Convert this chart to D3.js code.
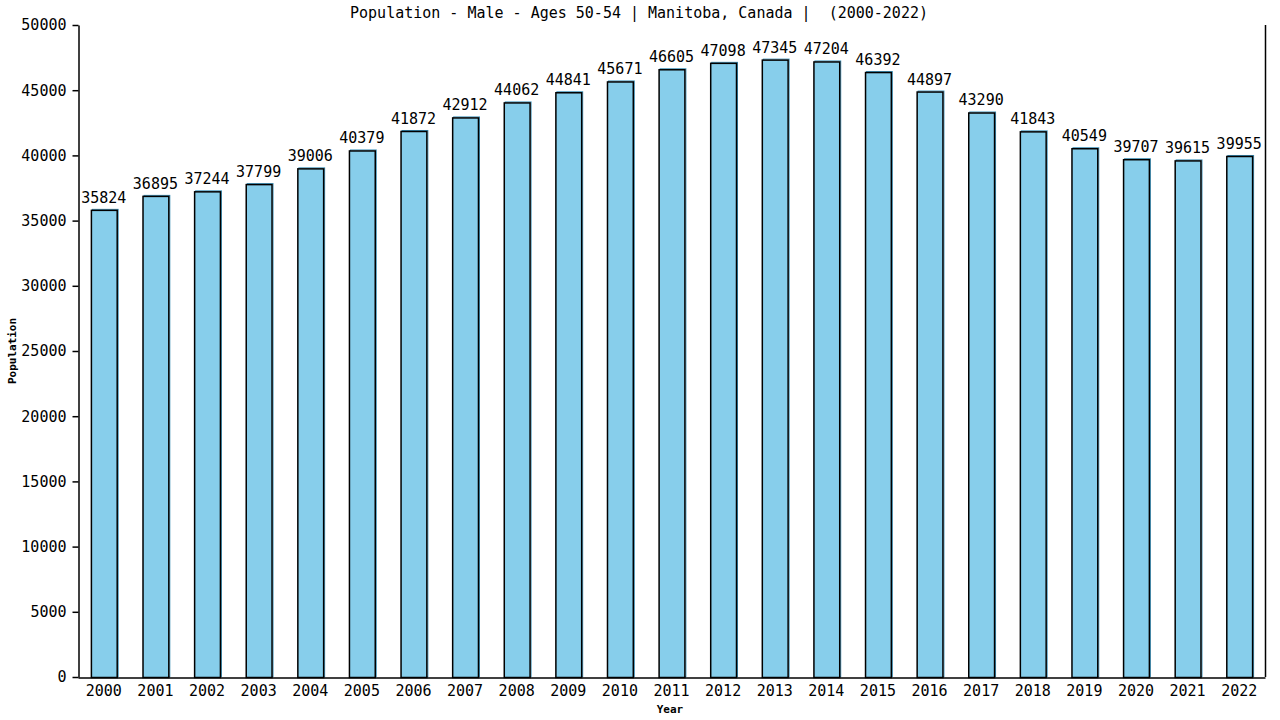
<!DOCTYPE html>
<html>
<head>
<meta charset="utf-8">
<script src="https://cdn.jsdelivr.net/npm/d3@7"></script>
<style>
  body { margin: 0; background: #fff; }
  text { font-family: "DejaVu Sans Mono", "Liberation Mono", monospace; }
</style>
</head>
<body>
<div id="chart"></div>
<script>
var years = ["2000", "2001", "2002", "2003", "2004", "2005", "2006", "2007", "2008", "2009", "2010", "2011",
  "2012", "2013", "2014", "2015", "2016", "2017", "2018", "2019", "2020", "2021", "2022"];
var population = [35824, 36895, 37244, 37799, 39006, 40379, 41872, 42912, 44062, 44841, 45671, 46605,
  47098, 47345, 47204, 46392, 44897, 43290, 41843, 40549, 39707, 39615, 39955];
var yTicks = [0, 5000, 10000, 15000, 20000, 25000, 30000, 35000, 40000, 45000, 50000];

var width = 1280,
    height = 720,
    plotLeft = 78, plotRight = 1265, plotTop = 25, plotBottom = 677;

var svg = d3.select("#chart").append("svg")
    .attr("width", width)
    .attr("height", height);

var x = d3.scaleBand()
    .domain(years)
    .range([plotLeft, plotRight])
    .paddingInner(0.5)
    .paddingOuter(0.25);

var y = d3.scaleLinear()
    .domain([0, 50000])
    .range([plotBottom, plotTop]);

// bars: a thin blue shadow behind, then the filled bar
var bars = svg.append("g");
bars.selectAll("rect.shadow")
    .data(population)
    .enter().append("rect")
    .attr("class", "shadow")
    .attr("x", function (d, i) { return x(years[i]) + 1.5; })
    .attr("y", function (d) { return y(d) - 0.5; })
    .attr("width", x.bandwidth())
    .attr("height", function (d) { return plotBottom - y(d); })
    .attr("fill", "none")
    .attr("stroke", "#3a8fb7")
    .attr("stroke-width", 1);

bars.selectAll("rect.bar")
    .data(population)
    .enter().append("rect")
    .attr("class", "bar")
    .attr("x", function (d, i) { return x(years[i]) + 0.5; })
    .attr("y", function (d) { return y(d) + 0.5; })
    .attr("width", x.bandwidth())
    .attr("height", function (d) { return plotBottom - y(d); })
    .attr("fill", "#87ceeb")
    .attr("stroke", "#000")
    .attr("stroke-width", 1.5);

// value labels
svg.append("g").selectAll("text")
    .data(population)
    .enter().append("text")
    .attr("x", function (d, i) { return x(years[i]) + x.bandwidth() / 2; })
    .attr("y", function (d) { return y(d) - 7; })
    .attr("text-anchor", "middle")
    .attr("font-size", "15px")
    .attr("fill", "#000")
    .text(function (d) { return d; });

// axes
var yAxis = d3.axisLeft(y).tickValues(yTicks).tickFormat(d3.format("d"))
    .tickSize(6).tickSizeOuter(0).tickPadding(6);
var gy = svg.append("g")
    .attr("transform", "translate(" + (plotLeft + 0.5) + ",0)")
    .call(yAxis);
gy.selectAll("text").attr("font-size", "15px").attr("fill", "#000")
    .attr("font-family", "DejaVu Sans Mono, monospace");
gy.selectAll("line, path").attr("stroke", "#000").attr("stroke-width", 1.5);

var xAxis = d3.axisBottom(x).tickSize(0).tickPadding(8);
var gx = svg.append("g")
    .attr("transform", "translate(0," + (plotBottom + 0.5) + ")")
    .call(xAxis);
gx.selectAll("text").attr("font-size", "15px").attr("fill", "#000")
    .attr("font-family", "DejaVu Sans Mono, monospace");
gx.select("path").attr("stroke", "#000").attr("stroke-width", 1.5);

// right border
svg.append("line")
    .attr("x1", plotRight + 0.5).attr("x2", plotRight + 0.5)
    .attr("y1", plotTop).attr("y2", plotBottom)
    .attr("stroke", "#000").attr("stroke-width", 1.5);

// titles
svg.append("text")
    .attr("x", 639)
    .attr("y", 18)
    .attr("text-anchor", "middle")
    .attr("font-size", "15px")
    .attr("xml:space", "preserve")
    .style("white-space", "pre")
    .text("Population - Male - Ages 50-54 | Manitoba, Canada |  (2000-2022)");

svg.append("text")
    .attr("x", 670)
    .attr("y", 713)
    .attr("text-anchor", "middle")
    .attr("font-size", "11px")
    .attr("font-weight", "bold")
    .text("Year");

svg.append("text")
    .attr("transform", "translate(16,351) rotate(-90)")
    .attr("text-anchor", "middle")
    .attr("font-size", "11px")
    .attr("font-weight", "bold")
    .text("Population");
</script>
</body>
</html>
